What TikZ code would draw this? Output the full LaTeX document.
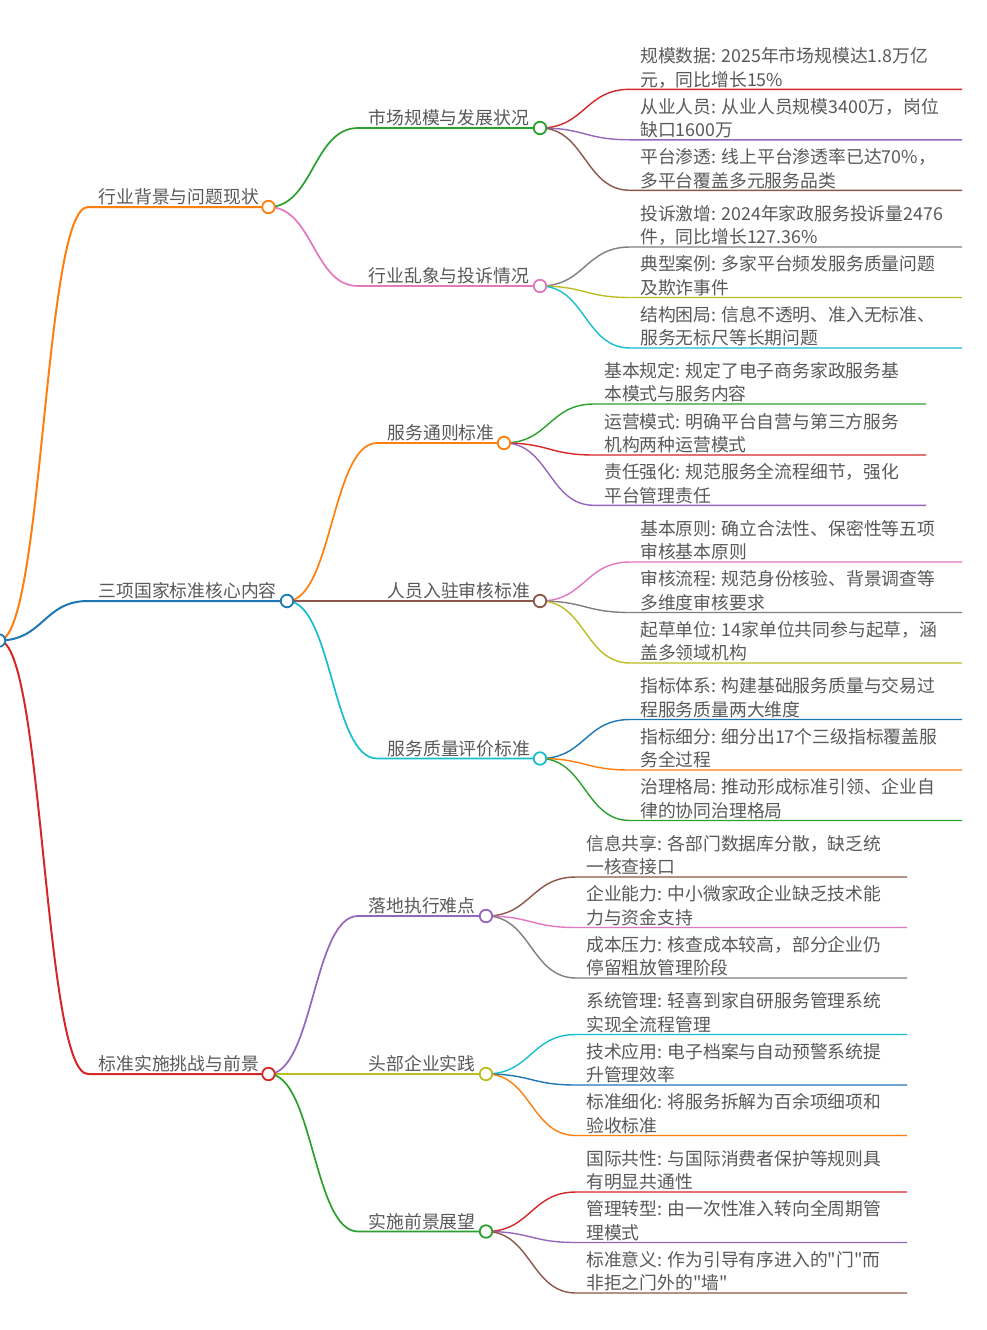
\documentclass[tikz,border=0pt]{standalone}
\usepackage{fontspec}
\newfontfamily\cjk{Noto Sans CJK SC}
\usetikzlibrary{calc}
\pgfdeclarelayer{bg}
\pgfsetlayers{bg,main}
\definecolor{cBlue}{HTML}{1F77B4}
\definecolor{cOrange}{HTML}{FF7F0E}
\definecolor{cGreen}{HTML}{2CA02C}
\definecolor{cRed}{HTML}{D62728}
\definecolor{cPurple}{HTML}{9467BD}
\definecolor{cBrown}{HTML}{8C564B}
\definecolor{cPink}{HTML}{E377C2}
\definecolor{cGray}{HTML}{7F7F7F}
\definecolor{cOlive}{HTML}{BCBD22}
\definecolor{cCyan}{HTML}{17BECF}
\definecolor{txtgray}{HTML}{595959}
\tikzset{
  txt/.style={anchor=base west, inner sep=0pt, font=\cjk\fontsize{17.8}{23.5}\selectfont, text=txtgray},
  knob/.style={circle, draw=#1, fill=white, line width=1.8pt, minimum size=12.5pt, inner sep=0pt},
  d1/.style={line width=2pt},
  d2/.style={line width=1.7pt},
  d3/.style={line width=1.4pt},
}
% link: style, colour, from, via, to
\newcommand\mmlink[5]{%
  \begin{pgfonlayer}{bg}
  \draw[#1, draw=#2] let \p1=(#3), \p2=(#4) in
    (\p1) .. controls ({(\x1+\x2)/2},\y1) and ({(\x1+\x2)/2},\y2) .. (\p2) -- (#5);
  \end{pgfonlayer}}
% inner node: name, colour, style, parent, y, startx, circlex, text
\newcommand\inode[8]{%
  \coordinate (#1s) at (#6,#5);
  \node[knob=#2] (#1) at (#7,#5) {};
  \node[txt] (#1t) at (#6+10.5,#5-3.2) {#8};
  \mmlink{#3}{#2}{#4.center}{#1s}{#1.center}}
% leaf: name, colour, parent, y, startx, endx, line1, line2
\newcommand\leaf[8]{%
  \coordinate (#1s) at (#5,#4);
  \coordinate (#1e) at (#6,#4);
  \node[txt] (#1a) at (#5+10,#4-26.7) {#7};
  \node[txt] (#1b) at (#5+10,#4-3.2) {#8};
  \mmlink{d3}{#2}{#3.center}{#1s}{#1e}}
\begin{document}
\begin{tikzpicture}[x=1pt,y=-1pt]
\useasboundingbox (0,0) rectangle (986,1330);
\begin{pgfonlayer}{bg}
\fill[white] (0,0) rectangle (986,1330);
\end{pgfonlayer}
\node[knob=cBlue] (R) at (-1,640.5) {};
% ---------- branch A
\inode{A}{cOrange}{d1}{R}{207}{88}{268.5}{行业背景与问题现状}
\inode{Aa}{cGreen}{d2}{A}{128}{358}{540}{市场规模与发展状况}
\leaf{Aa1}{cRed}{Aa}{89.3}{630}{962}{规模数据: 2025年市场规模达1.8万亿}{元，同比增长15\%}
\leaf{Aa2}{cPurple}{Aa}{139.8}{630}{962}{从业人员: 从业人员规模3400万，岗位}{缺口1600万}
\leaf{Aa3}{cBrown}{Aa}{190.3}{630}{962}{平台渗透: 线上平台渗透率已达70\%，}{多平台覆盖多元服务品类}
\inode{Ab}{cPink}{d2}{A}{286}{358}{540}{行业乱象与投诉情况}
\leaf{Ab1}{cGray}{Ab}{247}{630}{962}{投诉激增: 2024年家政服务投诉量2476}{件，同比增长127.36\%}
\leaf{Ab2}{cOlive}{Ab}{297.5}{630}{962}{典型案例: 多家平台频发服务质量问题}{及欺诈事件}
\leaf{Ab3}{cCyan}{Ab}{348}{630}{962}{结构困局: 信息不透明、准入无标准、}{服务无标尺等长期问题}
% ---------- branch B
\inode{B}{cBlue}{d1}{R}{601}{88}{287}{三项国家标准核心内容}
\inode{Ba}{cOrange}{d2}{B}{443}{377}{504}{服务通则标准}
\leaf{Ba1}{cGreen}{Ba}{404}{594}{926}{基本规定: 规定了电子商务家政服务基}{本模式与服务内容}
\leaf{Ba2}{cRed}{Ba}{455}{594}{926}{运营模式: 明确平台自营与第三方服务}{机构两种运营模式}
\leaf{Ba3}{cPurple}{Ba}{505.3}{594}{926}{责任强化: 规范服务全流程细节，强化}{平台管理责任}
\inode{Bb}{cBrown}{d2}{B}{601}{377}{540}{人员入驻审核标准}
\leaf{Bb1}{cPink}{Bb}{562}{630}{962}{基本原则: 确立合法性、保密性等五项}{审核基本原则}
\leaf{Bb2}{cGray}{Bb}{612.5}{630}{962}{审核流程: 规范身份核验、背景调查等}{多维度审核要求}
\leaf{Bb3}{cOlive}{Bb}{663}{630}{962}{起草单位: 14家单位共同参与起草，涵}{盖多领域机构}
\inode{Bc}{cCyan}{d2}{B}{758.5}{377}{540}{服务质量评价标准}
\leaf{Bc1}{cBlue}{Bc}{719.5}{630}{962}{指标体系: 构建基础服务质量与交易过}{程服务质量两大维度}
\leaf{Bc2}{cOrange}{Bc}{770}{630}{962}{指标细分: 细分出17个三级指标覆盖服}{务全过程}
\leaf{Bc3}{cGreen}{Bc}{820.5}{630}{962}{治理格局: 推动形成标准引领、企业自}{律的协同治理格局}
% ---------- branch C
\inode{C}{cRed}{d1}{R}{1074}{88}{268.5}{标准实施挑战与前景}
\inode{Ca}{cPurple}{d2}{C}{916}{358}{486}{落地执行难点}
\leaf{Ca1}{cBrown}{Ca}{877}{576}{907}{信息共享: 各部门数据库分散，缺乏统}{一核查接口}
\leaf{Ca2}{cPink}{Ca}{927.5}{576}{907}{企业能力: 中小微家政企业缺乏技术能}{力与资金支持}
\leaf{Ca3}{cGray}{Ca}{978}{576}{907}{成本压力: 核查成本较高，部分企业仍}{停留粗放管理阶段}
\inode{Cb}{cOlive}{d2}{C}{1074}{358}{486}{头部企业实践}
\leaf{Cb1}{cCyan}{Cb}{1034.5}{576}{907}{系统管理: 轻喜到家自研服务管理系统}{实现全流程管理}
\leaf{Cb2}{cBlue}{Cb}{1085}{576}{907}{技术应用: 电子档案与自动预警系统提}{升管理效率}
\leaf{Cb3}{cOrange}{Cb}{1135.5}{576}{907}{标准细化: 将服务拆解为百余项细项和}{验收标准}
\inode{Cc}{cGreen}{d2}{C}{1231.5}{358}{486}{实施前景展望}
\leaf{Cc1}{cRed}{Cc}{1192}{576}{907}{国际共性: 与国际消费者保护等规则具}{有明显共通性}
\leaf{Cc2}{cPurple}{Cc}{1242.5}{576}{907}{管理转型: 由一次性准入转向全周期管}{理模式}
\leaf{Cc3}{cBrown}{Cc}{1293}{576}{907}{标准意义: 作为引导有序进入的"门"而}{非拒之门外的"墙"}
\end{tikzpicture}
\end{document}
